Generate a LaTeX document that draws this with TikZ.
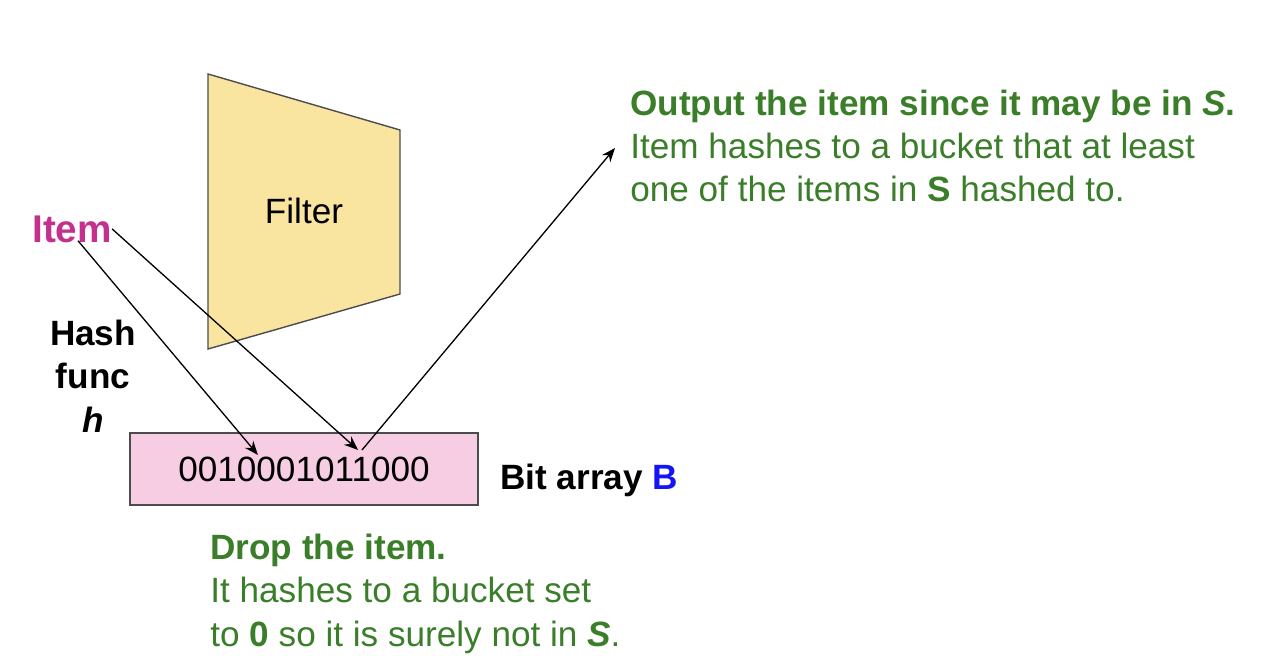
\documentclass[tikz,border=0pt]{standalone}
\usepackage{fontspec}
\setmainfont{Liberation Sans}
\usetikzlibrary{arrows.meta,positioning}
\definecolor{itemmag}{RGB}{197,48,143}
\definecolor{notegreen}{RGB}{58,126,42}
\definecolor{filteryel}{RGB}{250,229,160}
\definecolor{bitpink}{RGB}{247,205,228}
\definecolor{bblue}{RGB}{20,20,245}
\tikzset{
  bodytext/.style={inner sep=0pt, align=left, font=\fontsize{20}{24.5}\selectfont},
  boldtext/.style={bodytext, font=\fontsize{20}{24.5}\selectfont\bfseries},
  notetext/.style={bodytext, text=notegreen},
  boxline/.style={draw=black!70, line width=0.8pt},
  hitarrow/.style={-{Stealth[length=2.8mm, width=2.2mm]}, line width=0.75pt, draw=black},
}

\begin{document}
\begin{tikzpicture}[x=0.02cm, y=-0.02cm]
    \useasboundingbox (0,0) rectangle (1264,662);
    % filter
    \draw[boxline, fill=filteryel] (208,74) -- (400,130) -- (400,294) -- (208,349) -- cycle;
    \node[bodytext, anchor=base] (filter) at (304,224) {Filter};
    \node[bodytext, font=\fontsize{22}{26}\selectfont\bfseries, text=itemmag, anchor=base] (item) at (72,242) {Item};
    % multi-line nodes: base = last line
    \node[boldtext, align=center, anchor=base] (hash) at (93,432) {Hash\\func\\\textit{h}};
    % bit array
    \node[boxline, fill=bitpink, minimum width=6.96cm, minimum height=1.44cm, font=\fontsize{20}{24}\selectfont] (bits) at (304,469) {0010001011000};
    \node[boldtext, anchor=base west] (bitlbl) at (500,489) {Bit array \textcolor{bblue}{B}};
    % notes
    \node[notetext, anchor=base west] (output) at (630,202) {\textbf{Output the item since it may be in \textit{S}.}\\Item hashes to a bucket that at least\\one of the items in \textbf{S} hashed to.};
    \node[notetext, anchor=base west] (drop) at (210,646) {\textbf{Drop the item.}\\It hashes to a bucket set\\to \textbf{0} so it is surely not in \textbf{\textit{S}}.};
    \coordinate (hitA) at (258,455);
    \coordinate (hitB) at (358,450);
    \coordinate (outgo) at (615,148);
    \draw[hitarrow] ([xshift=0.12cm, yshift=0.04cm]item.south) -- (hitA);
    \draw[hitarrow] (item.east) -- (hitB);
    \draw[hitarrow] ([xshift=0.08cm]hitB) -- (outgo);
\end{tikzpicture}
\end{document}
